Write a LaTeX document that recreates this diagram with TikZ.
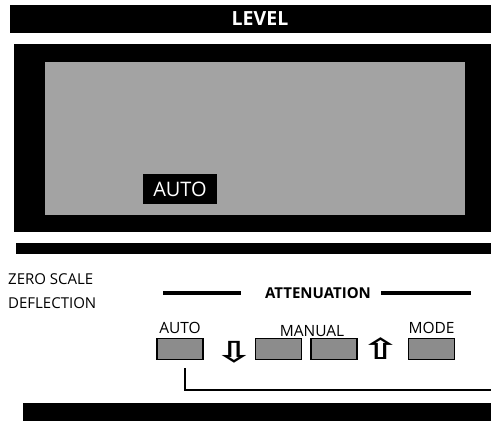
\documentclass[tikz,border=0pt]{standalone}
\usepackage{fontspec}
\setmainfont{Open Sans}
\newfontfamily\arrowfont{DejaVu Sans Bold}
\definecolor{panelGray}{gray}{0.64}
\definecolor{keyGray}{gray}{0.55}
\usetikzlibrary{positioning}

\begin{document}
\begin{tikzpicture}[x=1pt, y=-1pt,
  keybox/.style={draw, line width=1.6pt, fill=keyGray, minimum width=46pt,
                 minimum height=21pt, inner sep=0pt},
  keylabel/.style={font=\fontsize{15.5}{15.5}\selectfont, inner sep=0pt},
  sidelabel/.style={anchor=west, inner sep=0pt, font=\fontsize{15}{15}\selectfont},
  rule/.style={line width=3.5pt},
  arrowmark/.style={font=\arrowfont\fontsize{29}{29}\selectfont, inner sep=0pt}
]
  \useasboundingbox (0,0) rectangle (491,421);

  % header strip
  \fill (10,5) rectangle (491,33);
  \node[text=white, font=\bfseries\fontsize{19.5}{19.5}\selectfont] (level) at (260,19) {LEVEL};

  % display window
  \fill (14,44) rectangle (491,232);
  \fill[panelGray] (45,62) rectangle (465,215);
  \node[fill=black, text=white, minimum width=74pt, minimum height=30pt, inner sep=0pt,
        font=\fontsize{20}{20}\selectfont] (autoind) at (180,189) {AUTO};

  \fill (16,243) rectangle (491,254);

  % left legend
  \node[sidelabel] (zero) at (8,279) {ZERO SCALE};
  \node[sidelabel] (defl) at (8,303) {DEFLECTION};

  % attenuation heading
  \node[font=\bfseries\fontsize{15}{15}\selectfont, inner sep=0pt] (atten) at (318,293) {ATTENUATION};
  \draw[rule] ([xshift=-24pt]atten.west) -- +(-78,0);
  \draw[rule] ([xshift=10pt]atten.east) -- +(90,0);

  % keys
  \node[keybox] (autobtn) at (180,349) {};
  \node[keybox] (dnbtn)   at (278.5,349) {};
  \node[keybox] (upbtn)   at (334,349) {};
  \node[keybox] (modebtn) at (431.5,349) {};

  \node[keylabel, above=4pt of autobtn] (autolbl) {AUTO};
  \node[keylabel] (manlbl) at (312,331) {MANUAL};
  \node[keylabel, above=4pt of modebtn] (modelbl) {MODE};

  \node[arrowmark, left=1pt of dnbtn, yshift=-3pt] (dnarrow) {\scalebox{1.6}[1]{⇩}};
  \node[arrowmark, right=3pt of upbtn] (uparrow) {\scalebox{1.6}[1]{⇧}};

  % tap line from the auto key
  \coordinate (tapL) at ([xshift=5pt, yshift=-8pt]autobtn.south);
  \coordinate (tapR) at (491,390);
  \draw[line width=1.5pt] (tapL) |- (tapR);

  % footer strip
  \fill (23,403) rectangle (491,421);
\end{tikzpicture}
\end{document}
